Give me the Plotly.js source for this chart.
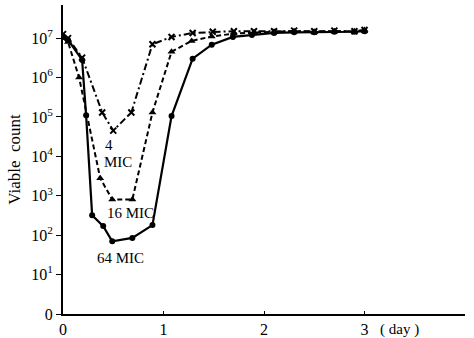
<!DOCTYPE html>
<html><head><meta charset="utf-8">
<script src="https://cdn.plot.ly/plotly-3.0.1.min.js"></script>
<style>html,body{margin:0;padding:0;background:#fff;}#chart{width:474px;height:338px;}</style>
</head><body><div id="chart"></div>
<script>
var days4 = [0,0.05,0.19,0.39,0.5,0.68,0.89,1.08,1.29,1.49,1.7,1.9,2.1,2.3,2.5,2.7,2.9,3.0];
var mic4 = [1.26e7,1e7,3.2e6,1.3e5,4.5e4,1.3e5,7e6,1.07e7,1.35e7,1.45e7,1.5e7,1.5e7,1.5e7,1.55e7,1.5e7,1.55e7,1.5e7,1.6e7];
var days16 = [0,0.05,0.16,0.37,0.49,0.69,0.89,1.08,1.28,1.48,1.7,1.9,2.1,2.3,2.5,2.7,2.9,3.0];
var mic16 = [1e7,8e6,1e6,2.8e3,8e2,8e2,1.3e5,4.5e6,8.5e6,1.1e7,1.3e7,1.4e7,1.45e7,1.5e7,1.45e7,1.5e7,1.5e7,1.6e7];
var days64 = [0,0.05,0.19,0.23,0.29,0.4,0.49,0.69,0.89,1.08,1.29,1.48,1.69,1.88,2.1,2.3,2.5,2.7,2.9,3.0];
var mic64 = [1.1e7,9e6,2.8e6,1.1e5,3.2e2,1.7e2,7e1,8.5e1,1.8e2,1.05e5,3e6,6.8e6,1.07e7,1.2e7,1.35e7,1.4e7,1.4e7,1.45e7,1.45e7,1.5e7];
var yTickVals = [1,10,100,1e3,1e4,1e5,1e6,1e7];
var yTickText = ['0','10<sup>1</sup>','10<sup>2</sup>','10<sup>3</sup>','10<sup>4</sup>','10<sup>5</sup>','10<sup>6</sup>','10<sup>7</sup>'];
var xTickVals = [0,1,2,3];
var xTickText = ['0','1','2','3'];
var seriesLabels = ['4','MIC','16 MIC','64 MIC'];

var traces = [
  {x: days4, y: mic4, mode:'lines+markers', line:{color:'#000',width:2,dash:'7px,3px,2px,3px'}, marker:{symbol:'x-thin',size:6,color:'#000',line:{width:2,color:'#000'}}},
  {x: days16, y: mic16, mode:'lines+markers', line:{color:'#000',width:2,dash:'5px,3px'}, marker:{symbol:'triangle-up',size:7,color:'#000'}},
  {x: days64, y: mic64, mode:'lines+markers', line:{color:'#000',width:2.2}, marker:{symbol:'circle',size:6,color:'#000'}}
];
var font = {family:'Liberation Serif, serif', color:'#000', size:15};
var layout = {
  width:474, height:338, showlegend:false,
  paper_bgcolor:'#fff', plot_bgcolor:'#fff',
  margin:{l:63, r:9, t:5, b:24},
  font: font,
  xaxis:{range:[0,4], showgrid:false, zeroline:false, showline:true, linecolor:'#000', linewidth:2,
    tickvals:xTickVals, ticktext:xTickText, ticks:'inside', ticklen:3, tickcolor:'#000', tickfont:{family:'Liberation Serif, serif', color:'#000', size:16}},
  yaxis:{type:'log', range:[0,7.84], showgrid:false, zeroline:false, showline:true, linecolor:'#000', linewidth:2,
    tickvals:yTickVals, ticktext:yTickText, ticks:'outside', ticklen:5, tickcolor:'#000', tickfont:{family:'Liberation Serif, serif', color:'#000', size:16},
    title:{text:'Viable  count', font:{family:'Liberation Serif, serif', color:'#000', size:17}, standoff:6}},
  annotations:[
    {x:0.46, y:4.3, xref:'x', yref:'y', text:seriesLabels[0], showarrow:false, font:font},
    {x:0.55, y:3.85, xref:'x', yref:'y', text:seriesLabels[1], showarrow:false, font:font},
    {x:0.67, y:2.56, xref:'x', yref:'y', text:seriesLabels[2], showarrow:false, font:font},
    {x:0.57, y:1.42, xref:'x', yref:'y', text:seriesLabels[3], showarrow:false, font:font},
    {x:3.35, y:0, xref:'x', yref:'paper', yanchor:'top', yshift:-5, text:'( day )', showarrow:false, font:{family:'Liberation Serif, serif', color:'#000', size:15}}
  ]
};
Plotly.newPlot('chart', traces, layout, {displayModeBar:false, staticPlot:true});
</script></body></html>
